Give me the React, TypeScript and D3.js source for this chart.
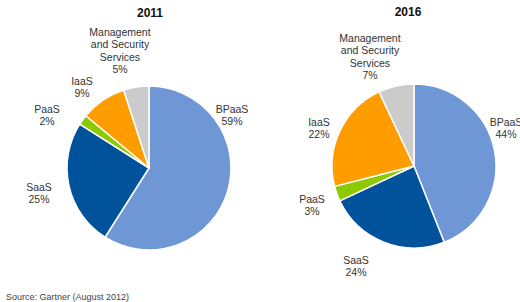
import React from "react";
import * as d3 from "d3";

const categories = ["BPaaS", "SaaS", "PaaS", "IaaS", "Management and Security Services"];
const values2011 = [59, 25, 2, 9, 5];
const values2016 = [44, 24, 3, 22, 7];
const years = ["2011", "2016"];
const colors = ["#6f97d5", "#00529b", "#8cc900", "#ff9c00", "#cbcbcb"];

type LabelPos = { x: number; y: number };
const labelPos2011: LabelPos[] = [
  { x: 232, y: 109 },
  { x: 39, y: 187 },
  { x: 47, y: 109 },
  { x: 82, y: 81 },
  { x: 120, y: 32 },
];
const labelPos2016: LabelPos[] = [
  { x: 506, y: 122 },
  { x: 356, y: 260 },
  { x: 312, y: 199 },
  { x: 319, y: 122 },
  { x: 370, y: 38 },
];

const labelLines = (cat: string): string[] =>
  cat === "Management and Security Services" ? ["Management", "and Security", "Services"] : [cat];

function Pie({ values, cx, cy, r, title, titleX, titleY, labels }: any) {
  const pie = d3.pie<number>().sort(null).value((d) => d);
  const arc = d3.arc<d3.PieArcDatum<number>>().innerRadius(0).outerRadius(r);
  const arcs = pie(values);
  return (
    <g>
      <text x={titleX} y={titleY} textAnchor="middle" dominantBaseline="central" fontWeight="bold" fontSize={12} fill="#111">
        {title}
      </text>
      <g transform={`translate(${cx},${cy})`}>
        {arcs.map((a, i) => (
          <path key={i} d={arc(a) || ""} fill={colors[i]} stroke="#fff" strokeWidth={1.5} strokeLinejoin="round" />
        ))}
      </g>
      {arcs.map((a, i) => {
        const lines = [...labelLines(categories[i]), `${values[i]}%`];
        return (
          <text key={i} textAnchor="middle" fontSize={10.5} fill="#333">
            {lines.map((l, j) => (
              <tspan key={j} x={labels[i].x} y={labels[i].y + j * 12.3} dominantBaseline="central">
                {l}
              </tspan>
            ))}
          </text>
        );
      })}
    </g>
  );
}

export default function App() {
  return (
    <svg width={520} height={302} style={{ position: "absolute", left: 0, top: 0, fontFamily: "Liberation Sans, Arial, sans-serif" }}>
      <rect width={520} height={302} fill="#fff" />
      <Pie values={values2011} cx={149} cy={168} r={82} title={years[0]} titleX={150} titleY={13} labels={labelPos2011} />
      <Pie values={values2016} cx={414} cy={166} r={82} title={years[1]} titleX={408} titleY={12} labels={labelPos2016} />
      <text x={6} y={297} fontSize={9} fill="#444" dominantBaseline="central">
        Source: Gartner (August 2012)
      </text>
    </svg>
  );
}
